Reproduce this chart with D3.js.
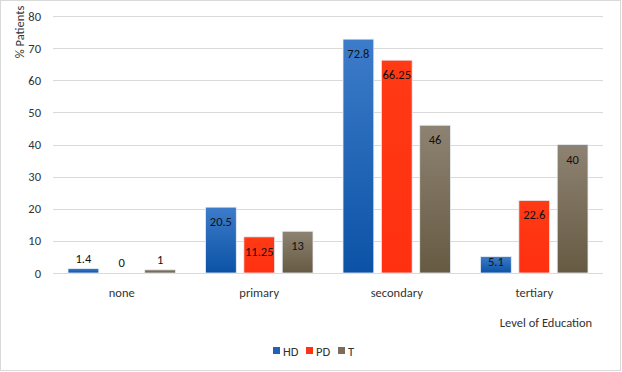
<!DOCTYPE html>
<html>
<head>
<meta charset="utf-8">
<script src="https://cdn.jsdelivr.net/npm/d3@7"></script>
<style>
  html, body { margin: 0; padding: 0; background: #fff; }
  svg { display: block; font-family: Calibri, Carlito, Lato, sans-serif; }
</style>
</head>
<body>
<svg id="chart" width="622" height="372"></svg>
<script>
const categories = ["none", "primary", "secondary", "tertiary"];
const seriesNames = ["HD", "PD", "T"];
const hdValues = [1.4, 20.5, 72.8, 5.1];
const pdValues = [0, 11.25, 66.25, 22.6];
const tValues = [1, 13, 46, 40];
const hdLabels = ["1.4", "20.5", "72.8", "5.1"];
const pdLabels = ["0", "11.25", "66.25", "22.6"];
const tLabels = ["1", "13", "46", "40"];
const yTicks = [0, 10, 20, 30, 40, 50, 60, 70, 80];

const seriesValues = [hdValues, pdValues, tValues];
const seriesLabels = [hdLabels, pdLabels, tLabels];

const svg = d3.select("#chart");
const W = 622, H = 372;
const FS = 12.5;
const TXT = "#333333";

// outer frame
svg.append("rect").attr("x", 0.5).attr("y", 0.5).attr("width", W - 2).attr("height", H - 2)
  .attr("fill", "#fff").attr("stroke", "#d9d9d9").attr("stroke-width", 1);

const defs = svg.append("defs");
const grads = [
  { id: "gHD", top: "#3d7cc9", bottom: "#0b52a6" },
  { id: "gPD", top: "#ff3a14", bottom: "#ff3010" },
  { id: "gT", top: "#8e8372", bottom: "#665a43" }
];
grads.forEach(g => {
  const lg = defs.append("linearGradient").attr("id", g.id)
    .attr("x1", 0).attr("y1", 0).attr("x2", 0).attr("y2", 1);
  lg.append("stop").attr("offset", "0%").attr("stop-color", g.top);
  lg.append("stop").attr("offset", "100%").attr("stop-color", g.bottom);
});
const legendColors = ["#1f62b8", "#ff3311", "#7a6e5a"];

const mLeft = 53, mRight = 603, mTop = 16, mBottom = 273;

const y = d3.scaleLinear().domain([0, 80]).range([mBottom, mTop]);
const x0 = d3.scaleBand().domain(categories).range([mLeft, mRight]).paddingInner(0).paddingOuter(0);
const inner = 15;
const x1 = d3.scaleBand().domain(seriesNames).range([inner, x0.bandwidth() - inner]).paddingInner(0.197).paddingOuter(0);

// gridlines
svg.append("g").selectAll("line").data(yTicks).join("line")
  .attr("x1", mLeft).attr("x2", mRight)
  .attr("y1", d => Math.round(y(d)) + 0.5).attr("y2", d => Math.round(y(d)) + 0.5)
  .attr("stroke", "#d9d9d9").attr("stroke-width", 1);

// y axis labels
const yAxis = d3.axisLeft(y).tickValues(yTicks).tickSize(0).tickPadding(0);
const yg = svg.append("g").attr("transform", `translate(${mLeft - 12},0)`).call(yAxis);
yg.select(".domain").remove();
yg.selectAll("text").attr("font-size", FS).attr("fill", TXT)
  .attr("font-family", "Calibri, Carlito, Lato, sans-serif");

// x axis labels
const xAxis = d3.axisBottom(x0).tickSize(0).tickPadding(0);
const xg = svg.append("g").attr("transform", `translate(0,${mBottom + 15})`).call(xAxis);
xg.select(".domain").remove();
xg.selectAll("text").attr("font-size", FS).attr("fill", TXT)
  .attr("font-family", "Calibri, Carlito, Lato, sans-serif");

// bars
const groups = svg.append("g").selectAll("g").data(categories).join("g")
  .attr("transform", d => `translate(${x0(d)},0)`);

seriesNames.forEach((s, si) => {
  groups.append("rect")
    .attr("x", x1(s))
    .attr("width", x1.bandwidth())
    .attr("y", (d, i) => y(seriesValues[si][i]))
    .attr("height", (d, i) => mBottom - y(seriesValues[si][i]))
    .attr("fill", `url(#${grads[si].id})`)
    .attr("stroke", (d, i) => seriesValues[si][i] > 0 ? "#e8eef8" : "none")
    .attr("stroke-width", 0.8);
  groups.append("text")
    .attr("x", x1(s) + x1.bandwidth() / 2)
    .attr("y", (d, i) => {
      const v = seriesValues[si][i];
      const t = y(v);
      const h = mBottom - t;
      if (h >= 25) return t + 19;
      if (h >= 10) return t + 9;
      return t - 6;
    })
    .attr("text-anchor", "middle")
    .attr("font-size", FS)
    .attr("fill", "#111")
    .text((d, i) => seriesLabels[si][i]);
});

// y title
svg.append("text")
  .attr("transform", `translate(24,32) rotate(-90)`)
  .attr("text-anchor", "middle")
  .attr("font-size", FS).attr("fill", TXT)
  .text("% Patients");

// x title
svg.append("text")
  .attr("x", 546).attr("y", 327)
  .attr("text-anchor", "middle")
  .attr("font-size", FS).attr("fill", TXT)
  .text("Level of Education");

// legend
const legendX = [273, 306, 338];
const lg = svg.append("g");
seriesNames.forEach((s, i) => {
  lg.append("rect").attr("x", legendX[i]).attr("y", 347).attr("width", 7).attr("height", 7)
    .attr("fill", legendColors[i]);
  lg.append("text").attr("x", legendX[i] + 10).attr("y", 355.5)
    .attr("font-size", FS).attr("fill", TXT).text(s);
});
</script>
</body>
</html>
